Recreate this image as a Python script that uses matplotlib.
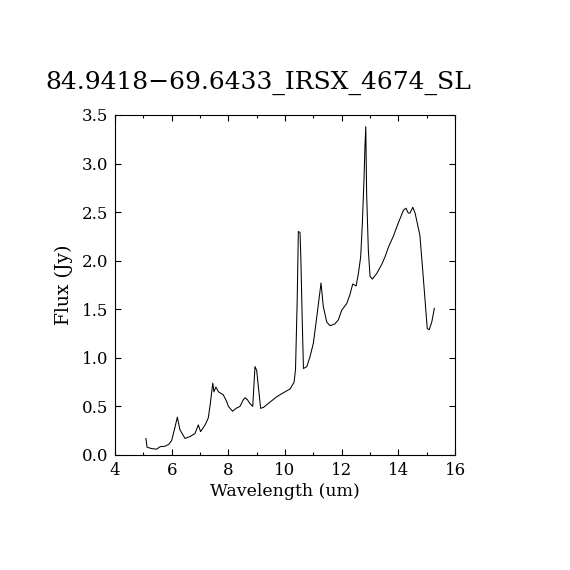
import matplotlib
matplotlib.use('Agg')
import matplotlib.pyplot as plt
from matplotlib.ticker import MultipleLocator

# spectrum (wavelength in um, flux in Jy)
wave = [5.09, 5.13, 5.30, 5.47, 5.59, 5.76, 5.90, 6.00, 6.12, 6.20, 6.29, 6.47,
        6.65, 6.82, 6.94, 7.02, 7.18, 7.29, 7.35, 7.45, 7.49, 7.56, 7.65, 7.82,
        7.94, 8.00, 8.15, 8.27, 8.41, 8.53, 8.59, 8.67, 8.76, 8.86, 8.94, 9.00,
        9.06, 9.14, 9.24, 9.41, 9.71, 9.94, 10.18, 10.32, 10.37, 10.43, 10.47,
        10.53, 10.56, 10.60, 10.65, 10.77, 10.88, 11.00, 11.12, 11.27, 11.35,
        11.47, 11.59, 11.76, 11.88, 12.00, 12.18, 12.29, 12.39, 12.51, 12.59,
        12.67, 12.73, 12.79, 12.82, 12.85, 12.88, 12.94, 13.00, 13.08, 13.24,
        13.41, 13.53, 13.65, 13.82, 14.00, 14.18, 14.27, 14.35, 14.41, 14.51,
        14.59, 14.68, 14.76, 14.86, 14.94, 15.02, 15.09, 15.18, 15.27]
flux = [0.17, 0.08, 0.065, 0.06, 0.085, 0.09, 0.11, 0.15, 0.29, 0.39, 0.26, 0.17,
        0.19, 0.22, 0.31, 0.24, 0.31, 0.38, 0.50, 0.74, 0.65, 0.70, 0.65, 0.62,
        0.55, 0.50, 0.45, 0.48, 0.50, 0.57, 0.59, 0.57, 0.53, 0.50, 0.91, 0.87,
        0.70, 0.48, 0.49, 0.53, 0.60, 0.64, 0.68, 0.75, 0.88, 1.60, 2.30,
        2.29, 2.01, 1.475, 0.89, 0.91, 1.01, 1.15, 1.42, 1.77, 1.53,
        1.37, 1.33, 1.35, 1.39, 1.49, 1.56, 1.65, 1.76, 1.74, 1.87,
        2.04, 2.39, 2.86, 3.17, 3.38, 2.69, 2.11, 1.84, 1.81, 1.87,
        1.96, 2.04, 2.14, 2.25, 2.39, 2.52, 2.54, 2.49, 2.49, 2.55,
        2.49, 2.37, 2.26, 1.90, 1.60, 1.30, 1.29, 1.37, 1.51]

title = '84.9418\u221269.6433_IRSX_4674_SL'

plt.rcParams['font.family'] = ['DejaVu Serif']

fig = plt.figure(figsize=(5.7, 5.7), dpi=100)
ax = fig.add_axes([0.2018, 0.2018, 0.5965, 0.5965])
ax.plot(wave, flux, color='black', lw=0.75)

ax.set_xlim(4, 16)
ax.set_ylim(0, 3.5)
ax.xaxis.set_major_locator(MultipleLocator(2))
ax.xaxis.set_minor_locator(MultipleLocator(1))
ax.yaxis.set_major_locator(MultipleLocator(0.5))
ax.yaxis.set_major_formatter(plt.FormatStrFormatter('%.1f'))
ax.tick_params(which='both', direction='in', top=True, right=True,
               labelsize=12, width=0.8, pad=5)
ax.tick_params(which='major', length=4.2)
ax.tick_params(which='minor', length=2)
for s in ax.spines.values():
    s.set_linewidth(0.8)

ax.set_xlabel('Wavelength (um)', fontsize=12.5, labelpad=3)
ax.set_ylabel('Flux (Jy)', fontsize=13.5, labelpad=6)
# title sits a bit left of the axes centre in the original
fig.text(0.4526, 0.855, title, fontsize=18, ha='center', va='center')

fig.savefig('out.png', dpi=100)
